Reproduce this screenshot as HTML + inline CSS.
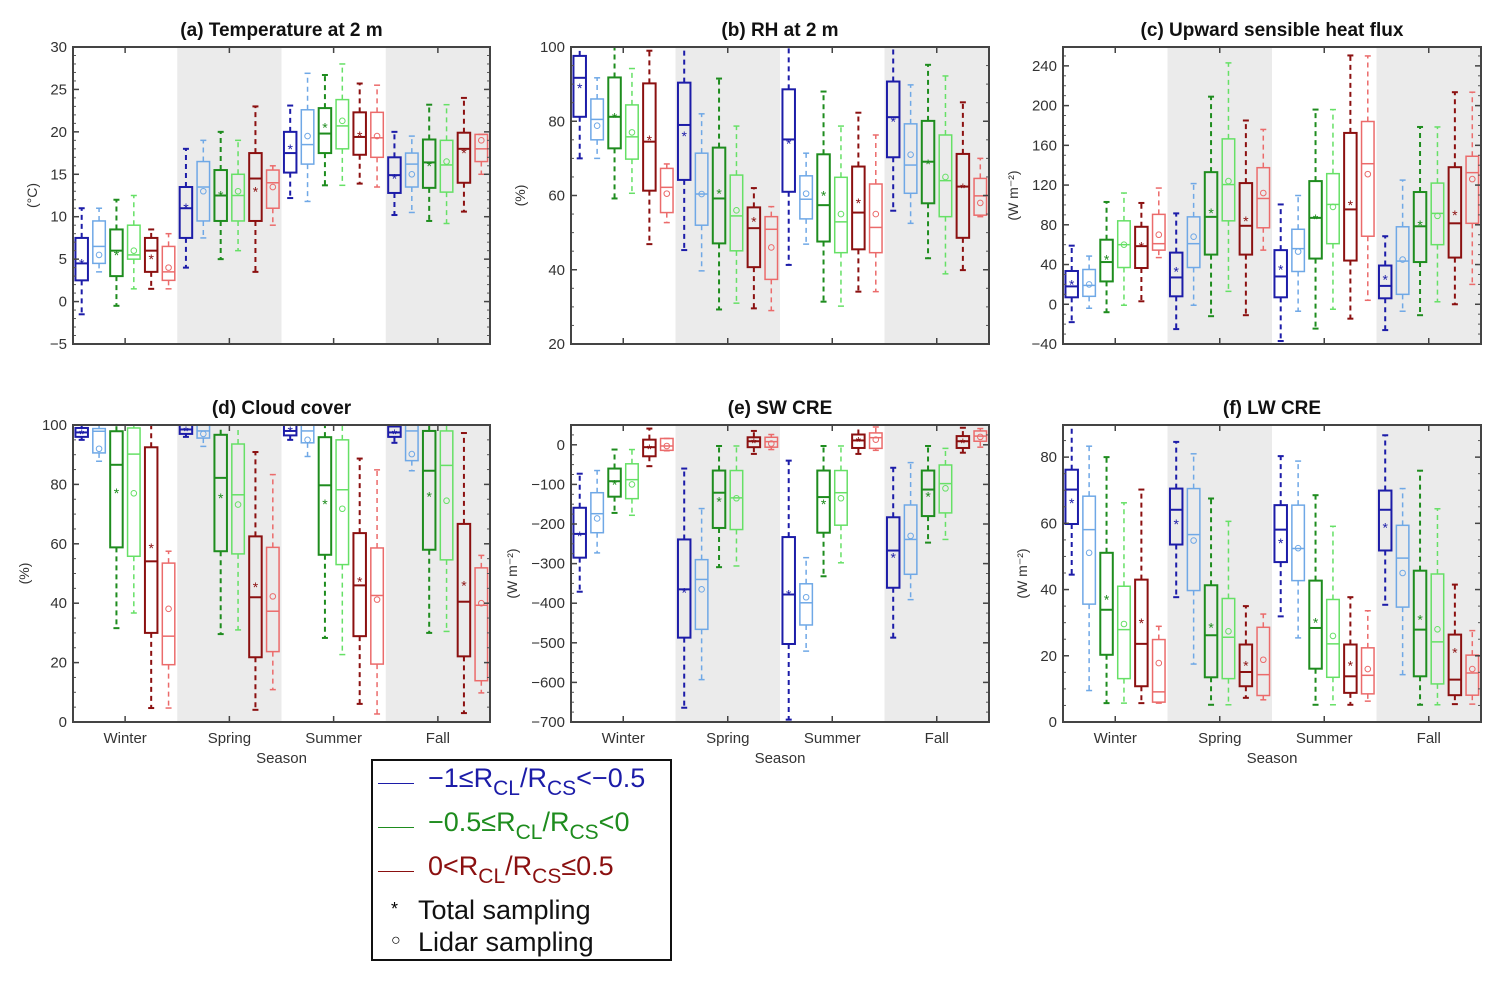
<!DOCTYPE html>
<html><head><meta charset="utf-8">
<style>
html,body{margin:0;padding:0;background:#fff;}
#wrap{position:relative;width:1505px;height:984px;overflow:hidden;font-family:"Liberation Sans",sans-serif;}
svg{position:absolute;left:0;top:0;}
#legend{position:absolute;left:371px;top:759px;width:297px;height:198px;border:2px solid #111;background:#fff;}
.lg{position:absolute;left:55px;font-size:27px;white-space:nowrap;line-height:27px;}
.lg sub{font-size:21px;vertical-align:-8px;line-height:0;}
.ll{position:absolute;left:5px;width:36px;height:0;border-top:1.5px solid;}
</style></head>
<body>
<div id="wrap">
<svg id="chart" width="1505" height="984"></svg>
<div id="legend">
  <div class="ll" style="top:22px;border-color:#1c1ca8"></div>
  <div class="lg" style="top:4px;color:#1c1ca8">−1≤R<sub>CL</sub>/R<sub>CS</sub>&lt;−0.5</div>
  <div class="ll" style="top:66px;border-color:#1e8c1e"></div>
  <div class="lg" style="top:48px;color:#1e8c1e">−0.5≤R<sub>CL</sub>/R<sub>CS</sub>&lt;0</div>
  <div class="ll" style="top:110px;border-color:#8b1010"></div>
  <div class="lg" style="top:92px;color:#8b1010">0&lt;R<sub>CL</sub>/R<sub>CS</sub>≤0.5</div>
  <div class="lg" style="top:135px;left:18px;font-size:18px">*</div>
  <div class="lg" style="top:136px;left:45px;color:#111">Total sampling</div>
  <div class="lg" style="top:166px;left:18px;font-size:16px">○</div>
  <div class="lg" style="top:168px;left:45px;color:#111">Lidar sampling</div>
</div>
</div>
<script>
const seasons = ["Winter","Spring","Summer","Fall"];
const seriesColors = ["#1c1ca8","#6fa8e6","#1e8c1e","#66e066","#8b1010","#eb6b6b"];
const tempLo  = [-1.5,3.5,-0.5,1.5,1.5,1.5, 4,7.5,5,6,3.5,9, 12.2,11.8,13.7,13.7,13.9,13.5, 10.2,10.5,9.5,9.2,10.6,15];
const tempQ1  = [2.5,4.5,3,5,3.5,2.5, 7.5,9.5,9.5,9.5,9.5,11, 15.2,16.2,17.5,18,17.3,17, 12.8,13.5,13.4,12.9,14,16.5];
const tempMed = [4.5,6.5,6,5.5,6,3.5, 11,13.5,12.5,12.5,14.5,14, 17.5,18.5,19.8,20.7,19.4,19.3, 14.9,16.2,16.4,16.1,18,18];
const tempQ3  = [7.5,9.5,8.5,9,7.5,6.5, 13.5,16.5,15.5,15,17.5,15.5, 20,22.6,22.8,23.8,22.3,22.3, 17,17.5,19.1,19,19.9,19.7];
const tempHi  = [11,11,12,12.5,8.5,8, 18,19,20,19,23,16, 23.1,26.9,26.7,28,25.7,25.5, 20,19.5,23.2,23.2,24,19.7];
const tempMean= [4.5,5.5,5.5,6,5,4, 11,13,12.5,13,13,13.5, 18,19.5,20.5,21.3,19.5,19.5, 14.5,15,16,16.5,17.5,19];

const rhLo  = [70,70,59.2,60.6,46.9,52.7, 45.3,39.7,29.3,31,29.6,29, 41.3,46.9,31.4,30.2,34.1,34.1, 55.9,52.5,43.1,38.9,39.9,54.3];
const rhQ1  = [81.2,75,72.7,69.8,61.3,55.4, 64.2,52,47.1,45.1,40.7,37.4, 61,53.7,47.6,44.6,45.5,44.6, 70.3,60.6,57.9,54.3,48.6,54.7];
const rhMed = [91.7,80.5,81.2,75.8,74.5,62.2, 79,60.4,59.2,54.5,51.2,50.9, 75.1,59,57.4,52.9,55.4,51.4, 81.1,68.2,69.1,64,62.4,59.9];
const rhQ3  = [97.6,86,91.8,84.4,90.2,67.3, 90.4,71.4,72.9,65.5,56.8,54.3, 88.6,65.3,71.1,64.9,67.8,63.1, 90.7,79.3,80.1,76.3,71.2,64.6];
const rhHi  = [100,91.7,100,94.2,99,68.5, 100,82,91.5,78.7,62,57, 100,71.4,88,78.7,82.3,76.3, 100,89.8,95.2,92.2,85.1,70];
const rhMean= [88.9,78.8,81,77,75,60.5, 76,60.4,60.5,56,53,46, 74,60.5,60,55,58,55, 80,71,68.5,65,62,58];

const shLo  = [-18,-4,-8,-1,3,47, -25,-1,-12,13,-11,54.5, -37,-7,-24.5,-5,-14.5,4, -26,-7,-11,2.5,0,20];
const shQ1  = [7,8,23,37,36.5,54.5, 8,37,50,84,50,77, 7,33,46,61,44,68.5, 6,10,42.5,60,47,81.5];
const shMed = [18,19,42.5,60,58.5,61, 27,61,88,120.5,79,106.5, 28,56,87,100.5,95.5,141.5, 18.5,43.5,78.5,91.5,81.5,132.5];
const shQ3  = [33.5,35,65,84,78,90.5, 52,88,133,166.5,122,137.5, 54.5,75.5,124,131.5,172.5,184, 39,78,113,122,138,149];
const shHi  = [59,48.5,103,112,102,117, 91.5,121.5,209,243,185,176, 100.5,109.5,196,196,250.5,250, 68.5,125,178.5,178.5,213.5,213.5];
const shMean= [20,20,45,60,58,70, 33,68,92,124,84,112, 35,53,86,98,100,131, 25,45,80,89,90,126];

const ccLo  = [95,87.8,31.6,36.7,4.7,4.7, 96,92.8,29.6,31,4.1,10.9, 95,89.4,28.3,22.7,6.1,2.7, 94,84.6,30,30.5,3,9.8];
const ccQ1  = [96,90.6,58.8,55.8,30,19.3, 97,95.6,57.5,56.6,21.8,23.7, 96.5,94,56.3,53,28.9,19.5, 96,88,58,54.6,22.1,13.9];
const ccMed = [97.5,97.9,86.6,90.2,54.1,28.9, 98.5,98,82.2,76.5,42,37.3, 98,98,79.7,78.2,46,42.6, 97.5,98,84.6,86.4,40.5,39.3];
const ccQ3  = [99,98.8,97.9,99,92.5,53.5, 100,100,96.7,93.6,62.5,58.8, 100,100,95.9,95,63.6,58.6, 99.5,100,98,98,66.7,51.9];
const ccHi  = [100,100,100,100,100,57.5, 100,100,100,100,90.9,83.3, 100,100,100,100,88.7,84.9, 100,100,100,100,97.3,56.1];
const ccMean= [97,92,77.1,77,58.6,38.1, 98,97,75.4,73.2,45.4,42.3, 98,95,73.4,71.8,47.3,41.2, 97,90.2,76,74.5,46,40];

const swLo  = [-371,-273,-172,-178,-54,-15, -664,-593,-309,-306,-23,-12, -694,-521,-332,-298,-23,-14, -487,-391,-247,-239,-20,-6];
const swQ1  = [-285,-222,-131,-136,-29,-14, -487,-466,-210,-214,-6,-6, -503,-455,-222,-203,-8,-9, -361,-327,-180,-172,-8,9];
const swMed = [-225,-174,-92,-88,-6,-3, -365,-340,-121,-134,9,8, -378,-399,-132,-121,11,18, -267,-239,-113,-98,9,22];
const swQ3  = [-159,-121,-60,-48,13,16, -239,-290,-65,-65,19,19, -233,-351,-65,-65,26,30, -183,-152,-65,-51,22,35];
const swHi  = [-73,-65,-12,-12,41,16, -60,-161,-3,-3,35,26, -40,-285,-3,-3,50,45, -58,-45,-3,-9,43,41];
const swMean= [-230,-186,-100,-100,-10,-3, -373,-365,-143,-135,5,3, -378,-385,-150,-135,8,13, -285,-230,-130,-110,5,20];

const lwLo  = [44.5,9.5,5.7,5.7,5.7,5.7, 37.7,17.5,5.2,5.2,7.3,6.7, 31.9,25.4,5.2,5.2,5.2,6.3, 35.4,14.3,5.2,5.2,5.4,5.4];
const lwQ1  = [59.8,35.6,20.3,13.1,10.8,6, 53.6,39.7,13.5,13.1,10.8,8, 48.3,42.7,16.1,13.5,8.8,8.5, 51.8,34.7,13.8,11.5,8.1,8.1];
const lwMed = [70.2,58.1,33.9,27.9,23.6,9.1, 64.1,56.6,26.2,25.6,15.1,14.3, 58.1,52.4,28.4,23.6,13.8,14.1, 64.1,49.5,27.9,24.2,12.8,14.8];
const lwQ3  = [76.2,68.2,51.1,41,43,24.9, 70.5,70.5,41.3,37.3,23.4,28.6, 65.5,65.5,42.7,37,23.4,22.4, 69.9,59.4,45.7,44.7,26.4,20.2];
const lwHi  = [95,83.3,80,66.2,70.2,28.9, 84.6,81,67.5,60.6,35,32.6, 80.3,78.8,68.5,59.1,37.7,33.6, 86.6,70.5,75.9,64.4,41.5,27.6];
const lwMean= [66.2,51.1,37,29.6,29.9,17.8, 59.8,54.8,28.6,27.4,17,18.8, 54,52.5,30,26,17,16, 58.8,45,31,28,21,16];

const tempTicks=[-5,0,5,10,15,20,25,30];
const rhTicks=[20,40,60,80,100];
const shTicks=[-40,0,40,80,120,160,200,240];
const ccTicks=[0,20,40,60,80,100];
const swTicks=[-700,-600,-500,-400,-300,-200,-100,0];
const lwTicks=[0,20,40,60,80];

const NS="http://www.w3.org/2000/svg";
const svg=document.getElementById('chart');
function mk(tag,attrs,parent){const e=document.createElementNS(NS,tag);for(const k in attrs)e.setAttribute(k,attrs[k]);(parent||svg).appendChild(e);return e;}

const panels=[
 {id:'temp',x0:73,y0:47,w:417,h:297,min:-5,max:30,minor:1,ticks:tempTicks,title:'(a) Temperature at 2 m',yl:'(°C)',ylx:37,d:[tempLo,tempQ1,tempMed,tempQ3,tempHi,tempMean],xl:false},
 {id:'rh',x0:571,y0:47,w:418,h:297,min:20,max:100,minor:5,ticks:rhTicks,title:'(b) RH at 2 m',yl:'(%)',ylx:525,d:[rhLo,rhQ1,rhMed,rhQ3,rhHi,rhMean],xl:false},
 {id:'shf',x0:1063,y0:47,w:418,h:297,min:-40,max:259,minor:10,ticks:shTicks,title:'(c) Upward sensible heat flux',yl:'(W m⁻²)',ylx:1018,d:[shLo,shQ1,shMed,shQ3,shHi,shMean],xl:false},
 {id:'cc',x0:73,y0:425,w:417,h:297,min:0,max:100,minor:5,ticks:ccTicks,title:'(d) Cloud cover',yl:'(%)',ylx:29,d:[ccLo,ccQ1,ccMed,ccQ3,ccHi,ccMean],xl:true},
 {id:'sw',x0:571,y0:425,w:418,h:297,min:-700,max:50,minor:25,ticks:swTicks,title:'(e) SW CRE',yl:'(W m⁻²)',ylx:517,d:[swLo,swQ1,swMed,swQ3,swHi,swMean],xl:true},
 {id:'lw',x0:1063,y0:425,w:418,h:297,min:0,max:89.7,minor:5,ticks:lwTicks,title:'(f) LW CRE',yl:'(W m⁻²)',ylx:1027,d:[lwLo,lwQ1,lwMed,lwQ3,lwHi,lwMean],xl:true}
];

panels.forEach((p,pi)=>{
  const g=mk('g',{});
  
  
  const Y=v=>p.y0+p.h-(v-p.min)/(p.max-p.min)*p.h;
  const sw=p.w/4, slot=sw/6;
  [1,3].forEach(s=>{
    const r=mk('rect',{x:p.x0+s*sw,y:p.y0,width:sw,height:p.h,fill:'#ebebeb'},g);
    
    
  });
  const cid='clip'+pi;
  const cp=mk('clipPath',{id:cid},g);mk('rect',{x:p.x0,y:p.y0-1,width:p.w,height:p.h+2},cp);
  const bg=mk('g',{'clip-path':'url(#'+cid+')'},g);
  for(let s=0;s<4;s++){for(let k=0;k<6;k++){
    const i=s*6+k;const col=seriesColors[k];const dark=(k%2===0);
    const cx=p.x0+s*sw+(k+0.5)*slot;const bw=12.5;
    const lo=Y(p.d[0][i]),q1=Y(p.d[1][i]),md=Y(p.d[2][i]),q3=Y(p.d[3][i]),hi=Y(p.d[4][i]),mn=Y(p.d[5][i]);
    const lw=dark?2:1.5;
    const bx=mk('g',{},bg);
    
    
    mk('line',{x1:cx,x2:cx,y1:q3,y2:hi,stroke:col,'stroke-width':lw,'stroke-dasharray':'5,4'},bx);
    mk('line',{x1:cx,x2:cx,y1:q1,y2:lo,stroke:col,'stroke-width':lw,'stroke-dasharray':'5,4'},bx);
    mk('line',{x1:cx-3,x2:cx+3,y1:hi,y2:hi,stroke:col,'stroke-width':lw},bx);
    mk('line',{x1:cx-3,x2:cx+3,y1:lo,y2:lo,stroke:col,'stroke-width':lw},bx);
    mk('rect',{x:cx-bw/2,y:q3,width:bw,height:Math.max(0.5,q1-q3),fill:'none',stroke:col,'stroke-width':lw},bx);
    mk('line',{x1:cx-bw/2,x2:cx+bw/2,y1:md,y2:md,stroke:col,'stroke-width':lw},bx);
    if(dark){const t=mk('text',{x:cx,y:mn+5,'text-anchor':'middle','font-size':'14',fill:col,'font-family':'Liberation Sans, sans-serif'},bx);t.textContent='*';}
    else mk('circle',{cx:cx,cy:mn,r:2.8,fill:'none',stroke:col,'stroke-width':1},bx);
  }}
  for(let v=Math.ceil(p.min/p.minor)*p.minor;v<=p.max;v+=p.minor){
    const y=Y(v);
    mk('line',{x1:p.x0,x2:p.x0+3,y1:y,y2:y,stroke:'#555','stroke-width':1},g);
    mk('line',{x1:p.x0+p.w,x2:p.x0+p.w-3,y1:y,y2:y,stroke:'#555','stroke-width':1},g);
  }
  p.ticks.forEach(v=>{
    const y=Y(v);
    mk('line',{x1:p.x0,x2:p.x0+6,y1:y,y2:y,stroke:'#444','stroke-width':1.5},g);
    mk('line',{x1:p.x0+p.w,x2:p.x0+p.w-6,y1:y,y2:y,stroke:'#444','stroke-width':1.5},g);
    const t=mk('text',{x:p.x0-6,y:y+5,'text-anchor':'end','font-size':'15',fill:'#333','font-family':'Liberation Sans, sans-serif'},g);
    t.textContent=String(v).replace('-','−');
    
    
  });
  for(let s=0;s<4;s++){
    const x=p.x0+(s+0.5)*sw;
    mk('line',{x1:x,x2:x,y1:p.y0+p.h,y2:p.y0+p.h-6,stroke:'#444','stroke-width':1.5},g);
    mk('line',{x1:x,x2:x,y1:p.y0,y2:p.y0+6,stroke:'#444','stroke-width':1.5},g);
    if(p.xl){const t=mk('text',{x:x,y:p.y0+p.h+21,'text-anchor':'middle','font-size':'15',fill:'#333','font-family':'Liberation Sans, sans-serif'},g);
      t.textContent=seasons[s];
      
      }
  }
  if(p.xl){const t=mk('text',{x:p.x0+p.w/2,y:p.y0+p.h+41,'text-anchor':'middle','font-size':'15',fill:'#333','font-family':'Liberation Sans, sans-serif'},g);
    t.textContent='Season';
    
    }
  mk('rect',{x:p.x0,y:p.y0,width:p.w,height:p.h,fill:'none',stroke:'#444','stroke-width':2},g);
  const tt=mk('text',{x:p.x0+p.w/2,y:p.y0-11,'text-anchor':'middle','font-size':'19','font-weight':'bold',fill:'#111','font-family':'Liberation Sans, sans-serif'},g);
  tt.textContent=p.title;
  
  
  const cy=p.y0+p.h/2;
  const yl=mk('text',{x:p.ylx,y:cy,'text-anchor':'middle','font-size':'14',fill:'#333','font-family':'Liberation Sans, sans-serif',transform:'rotate(-90 '+p.ylx+' '+cy+')'},g);
  yl.textContent=p.yl;
  
  
});
</script>
</body></html>
